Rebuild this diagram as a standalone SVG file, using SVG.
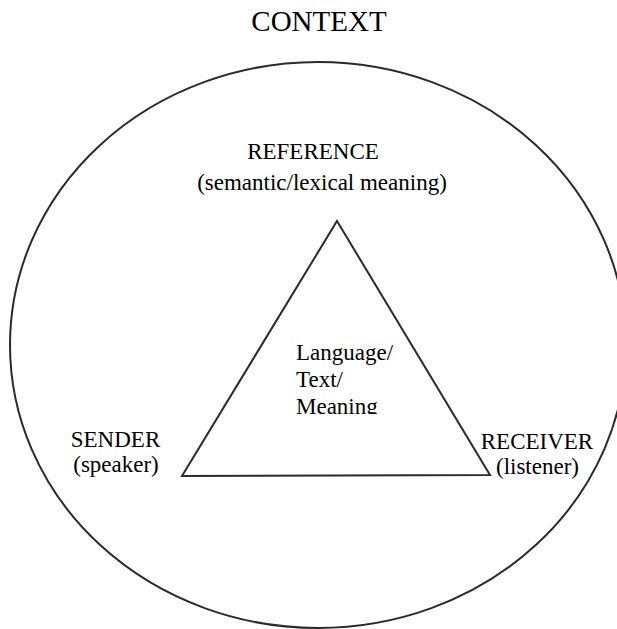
<svg xmlns="http://www.w3.org/2000/svg" width="617" height="629" viewBox="0 0 617 629">
  <style>
    .lbl { font-family: "Liberation Serif", "Times New Roman", serif; font-size: 23px; fill: #000; }
    .title { font-size: 29px; }
    .shape { fill: none; stroke: #2a2a2a; stroke-width: 2; }
  </style>
  <defs>
    <!-- the centre label is cut off just below its last baseline -->
    <clipPath id="innerClip">
      <rect x="0" y="0" width="617" height="414"/>
    </clipPath>
  </defs>
  <rect width="617" height="629" fill="#fff"/>

  <g id="context">
    <text class="lbl title" x="319" y="31" text-anchor="middle">CONTEXT</text>
    <ellipse class="shape" cx="318" cy="345" rx="308" ry="283"/>
  </g>

  <g id="reference">
    <text class="lbl" x="313" y="159" text-anchor="middle">REFERENCE</text>
    <text class="lbl" x="322" y="190" text-anchor="middle">(semantic/lexical meaning)</text>
  </g>

  <g id="connectors">
    <polygon class="shape" points="337,221 490,475 182,476"/>
  </g>

  <g id="language" clip-path="url(#innerClip)">
    <text class="lbl" x="296" y="360">Language/</text>
    <text class="lbl" x="296" y="387">Text/</text>
    <text class="lbl" x="296" y="414">Meaning</text>
  </g>

  <g id="sender">
    <text class="lbl" x="115.5" y="447" text-anchor="middle">SENDER</text>
    <text class="lbl" x="116" y="472" text-anchor="middle">(speaker)</text>
  </g>

  <g id="receiver">
    <text class="lbl" x="537" y="449" text-anchor="middle">RECEIVER</text>
    <text class="lbl" x="537.5" y="474" text-anchor="middle">(listener)</text>
  </g>
</svg>
